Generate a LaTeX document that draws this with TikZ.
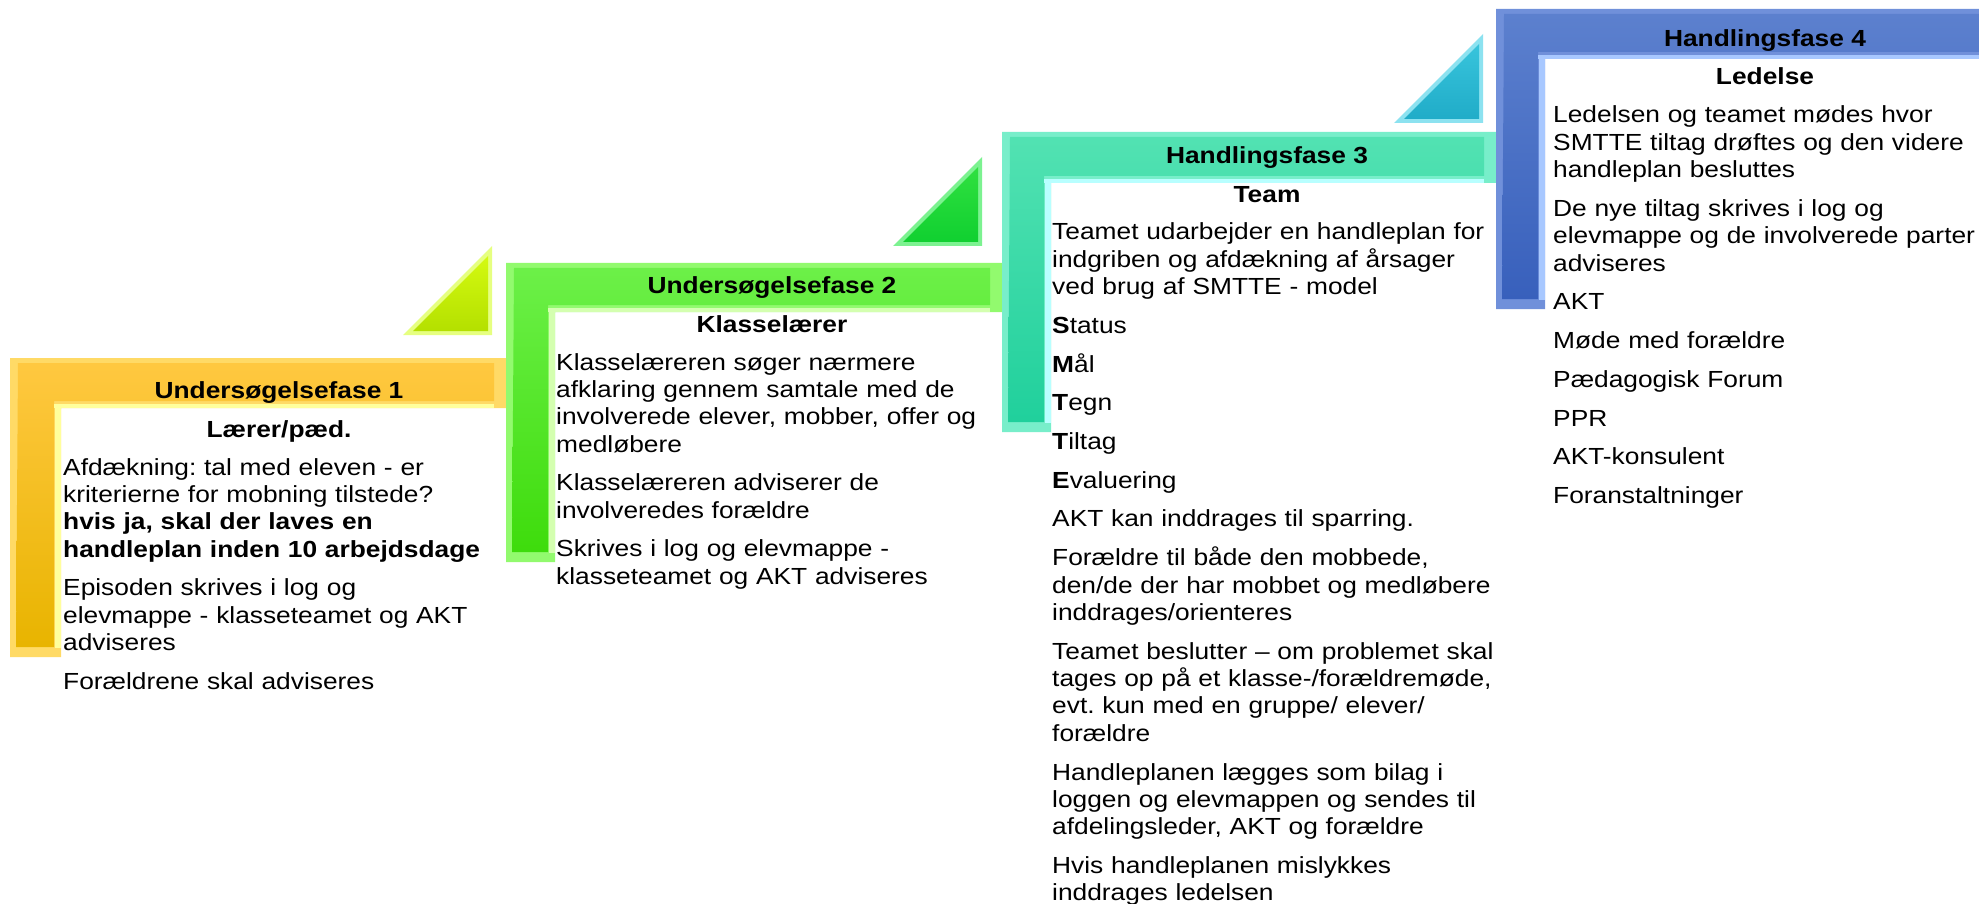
\documentclass[tikz,border=0pt]{standalone}
\usepackage{fontspec}
\setmainfont{Liberation Sans}[FakeStretch=1.13]
\frenchspacing
\definecolor{edge1}{HTML}{FFDA66}
\definecolor{top1}{HTML}{FFC840}
\definecolor{bot1}{HTML}{E8B400}
\definecolor{hi1}{HTML}{FFFF9C}
\definecolor{edge2}{HTML}{92FA6E}
\definecolor{top2}{HTML}{6CF048}
\definecolor{bot2}{HTML}{3EDC0C}
\definecolor{hi2}{HTML}{D4FFB0}
\definecolor{edge3}{HTML}{78EECA}
\definecolor{top3}{HTML}{52E2B2}
\definecolor{bot3}{HTML}{20D09C}
\definecolor{hi3}{HTML}{B8FFFF}
\definecolor{edge4}{HTML}{7090DA}
\definecolor{top4}{HTML}{5C80CE}
\definecolor{bot4}{HTML}{3860BC}
\definecolor{hi4}{HTML}{A8C8FF}
\definecolor{tedge1}{HTML}{E6FF80}
\definecolor{ttop1}{HTML}{D4FA10}
\definecolor{tbot1}{HTML}{B4E000}
\definecolor{tedge2}{HTML}{7CF290}
\definecolor{ttop2}{HTML}{30E040}
\definecolor{tbot2}{HTML}{10D030}
\definecolor{tedge3}{HTML}{8CE2F0}
\definecolor{ttop3}{HTML}{38C4DC}
\definecolor{tbot3}{HTML}{20ACC8}
\begin{document}
\begin{tikzpicture}[x=1pt,y=-1pt]
\tikzstyle{every node}+=[inner sep=0pt, font=\fontsize{23.3}{27.4}\selectfont]
\tikzstyle{head}=[anchor=base, font=\fontsize{23.3}{27.4}\selectfont\bfseries]
\tikzstyle{body}=[anchor=base west, align=left, text width=460pt]
\useasboundingbox (0,0) rectangle (1979,904);
\clip (0,0) rectangle (1979,904);
\fill [white] (0,0) rectangle (1979,904);
\foreach \x/\y/\i in {492/335/1, 982/246/2, 1483/123/3} {
  \fill [tedge\i] (\x-89,\y) -- (\x,\y) -- (\x,\y-89) -- cycle;
  \shade [top color=ttop\i, bottom color=tbot\i] (\x-79,\y-4) -- (\x-4,\y-4) -- (\x-4,\y-79) -- cycle;
}
\foreach \l/\t/\ix/\iy/\r/\b/\i in {10/358/61/408/506/657/1, 506/263/555/312/1002/562/2, 1002/132/1051/183/1496/432/3, 1496/9/1545/59/1991/309/4} {
  \fill [edge\i] (\l,\t) -- (\r,\t) -- (\r,\iy) -- (\ix,\iy) -- (\ix,\b) -- (\l,\b) -- cycle;
  \shade [top color=top\i, bottom color=bot\i] (\l+8,\t+5) -- (\r-12,\t+5) -- (\r-12,\iy-7) -- (\ix-7,\iy-7) -- (\ix-7,\b-10) -- (\l+6,\b-10) -- cycle;
  \fill [hi\i] (\ix-7,\iy-4) rectangle (\r-12,\iy);
  \fill [hi\i] (\ix-6,\iy-4) rectangle (\ix,\b-9);
}
\node [head] (h1) at (279,398) {Undersøgelsefase 1};
\node [head] (s1) at (279,437) {Lærer/pæd.};
\node [body] (b1) at (63,475) {Afdækning: tal med eleven - er\\ kriterierne for mobning tilstede?\\ \textbf{hvis ja, skal der laves en}\\ \textbf{handleplan inden 10 arbejdsdage}\\[11.3pt] Episoden skrives i log og\\ elevmappe - klasseteamet og AKT\\ adviseres\\[11.3pt] Forældrene skal adviseres};
\node [head] (h2) at (772,294) {Undersøgelsefase 2};
\node [head] (s2) at (772,332) {Klasselærer};
\node [body] (b2) at (556,370) {Klasselæreren søger nærmere\\ afklaring gennem samtale med de\\ involverede elever, mobber, offer og\\ medløbere\\[11.3pt] Klasselæreren adviserer de\\ involveredes forældre\\[11.3pt] Skrives i log og elevmappe -\\ klasseteamet og AKT adviseres};
\node [head] (h3) at (1267,164) {Handlingsfase 3};
\node [head] (s3) at (1267,203) {Team};
\node [body] (b3) at (1052,240) {Teamet udarbejder en handleplan for\\ indgriben og afdækning af årsager\\ ved brug af SMTTE - model\\[11.3pt] \textbf{S}tatus\\[11.3pt] \textbf{M}ål\\[11.3pt] \textbf{T}egn\\[11.3pt] \textbf{T}iltag\\[11.3pt] \textbf{E}valuering\\[11.3pt] AKT kan inddrages til sparring.\\[11.3pt] Forældre til både den mobbede,\\ den/de der har mobbet og medløbere\\ inddrages/orienteres\\[11.3pt] Teamet beslutter – om problemet skal\\ tages op på et klasse-/forældremøde,\\ evt. kun med en gruppe/ elever/\\ forældre\\[11.3pt] Handleplanen lægges som bilag i\\ loggen og elevmappen og sendes til\\ afdelingsleder, AKT og forældre\\[11.3pt] Hvis handleplanen mislykkes\\ inddrages ledelsen};
\node [head] (h4) at (1765,47) {Handlingsfase 4};
\node [head] (s4) at (1765,85) {Ledelse};
\node [body] (b4) at (1553,123) {Ledelsen og teamet mødes hvor\\ SMTTE tiltag drøftes og den videre\\ handleplan besluttes\\[11.3pt] De nye tiltag skrives i log og\\ elevmappe og de involverede parter\\ adviseres\\[11.3pt] AKT\\[11.3pt] Møde med forældre\\[11.3pt] Pædagogisk Forum\\[11.3pt] PPR\\[11.3pt] AKT-konsulent\\[11.3pt] Foranstaltninger};
\end{tikzpicture}
\end{document}
